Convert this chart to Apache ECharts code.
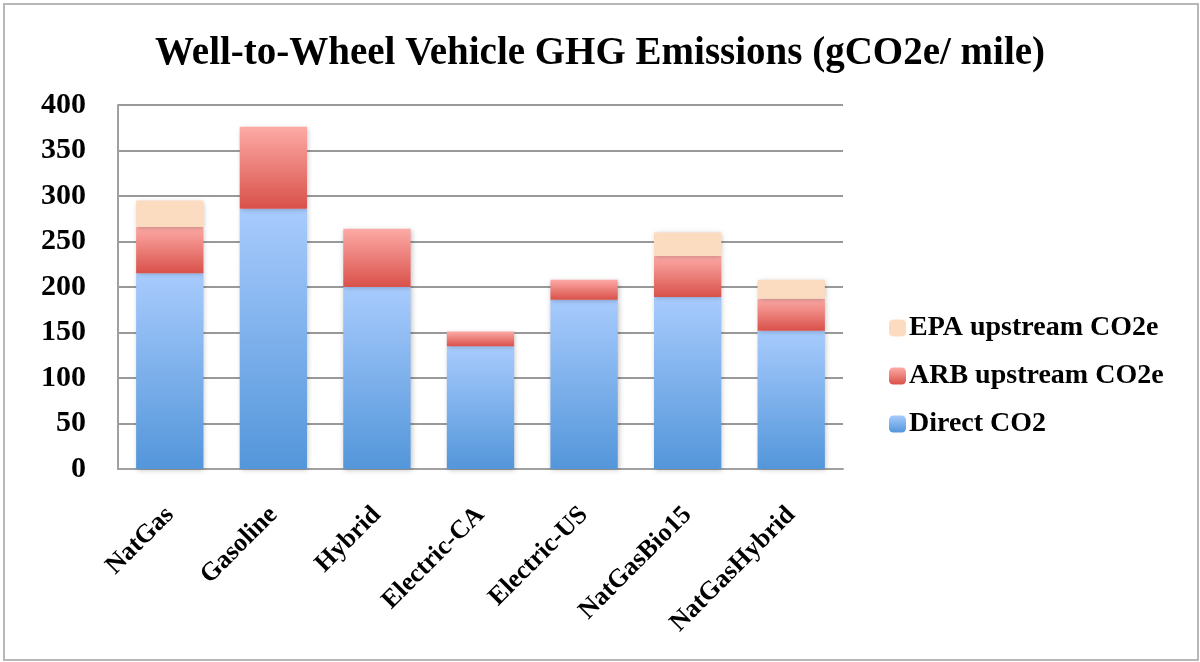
<!DOCTYPE html>
<html>
<head>
<meta charset="utf-8">
<script src="https://cdn.jsdelivr.net/npm/echarts@6/dist/echarts.min.js"></script>
<style>
html,body{margin:0;padding:0;background:#fff;}
#frame{position:absolute;left:3px;top:3px;width:1192px;height:654px;border:2px solid #b8b8b8;}
#chart{position:absolute;left:0;top:0;width:1200px;height:662px;}
</style>
</head>
<body>
<div id="frame"></div>
<div id="chart"></div>
<script>
const categories = ['NatGas','Gasoline','Hybrid','Electric-CA','Electric-US','NatGasBio15','NatGasHybrid'];
const directCO2 = [215, 286, 200, 135, 186, 189, 152];
const arbUpstream = [51, 90, 64, 16, 22, 45, 35];
const epaUpstream = [29, 0, 0, 0, 0, 26, 21];
const seriesNames = ['Direct CO2','ARB upstream CO2e','EPA upstream CO2e'];
const yTicks = {min: 0, max: 400, interval: 50};

const font = '"Liberation Serif", "DejaVu Serif", serif';
const grad = (top, bottom) => new echarts.graphic.LinearGradient(0,0,0,1,[{offset:0,color:top},{offset:1,color:bottom}]);
const shadow = {shadowBlur:5, shadowColor:'rgba(0,0,0,0.25)', shadowOffsetX:1, shadowOffsetY:1};

const chart = echarts.init(document.getElementById('chart'), null, {renderer:'canvas'});
chart.setOption({
  animation:false,
  backgroundColor:'transparent',
  title:{
    text:'Well-to-Wheel Vehicle GHG Emissions (gCO2e/ mile)',
    left:'center', top:29,
    textStyle:{fontFamily:font, fontWeight:'bold', fontSize:39, color:'#000'}
  },
  grid:{left:118, right:357, top:105, bottom:193, containLabel:false},
  legend:{
    orient:'vertical', left:884, top:309, itemGap:20,
    itemWidth:17, itemHeight:17,
    data:[seriesNames[2], seriesNames[1], seriesNames[0]],
    textStyle:{fontFamily:font, fontWeight:'bold', fontSize:28, color:'#000', padding:[0,0,0,-2]}
  },
  xAxis:{
    type:'category', data:categories,
    axisLine:{lineStyle:{color:'#a0a0a0', width:2}},
    axisTick:{show:false},
    axisLabel:{rotate:45, margin:42, fontFamily:font, fontWeight:'bold', fontSize:26, color:'#000', interval:0}
  },
  yAxis:{
    type:'value', min:yTicks.min, max:yTicks.max, interval:yTicks.interval,
    axisLine:{show:true, lineStyle:{color:'#a0a0a0', width:2}},
    axisTick:{show:false},
    splitLine:{lineStyle:{color:'#999', width:2}},
    axisLabel:{margin:32, fontFamily:font, fontWeight:'bold', fontSize:30, color:'#000'}
  },
  series:[
    {name:seriesNames[0], type:'bar', stack:'t', barWidth:'65%', data:directCO2,
     itemStyle:Object.assign({color:grad('#a8cbfd','#5396da')}, shadow)},
    {name:seriesNames[1], type:'bar', stack:'t', data:arbUpstream,
     itemStyle:Object.assign({color:grad('#fdaaa6','#d9514a')}, shadow)},
    {name:seriesNames[2], type:'bar', stack:'t', data:epaUpstream,
     itemStyle:Object.assign({color:'#fbdcc1'}, shadow)}
  ]
});
</script>
</body>
</html>
